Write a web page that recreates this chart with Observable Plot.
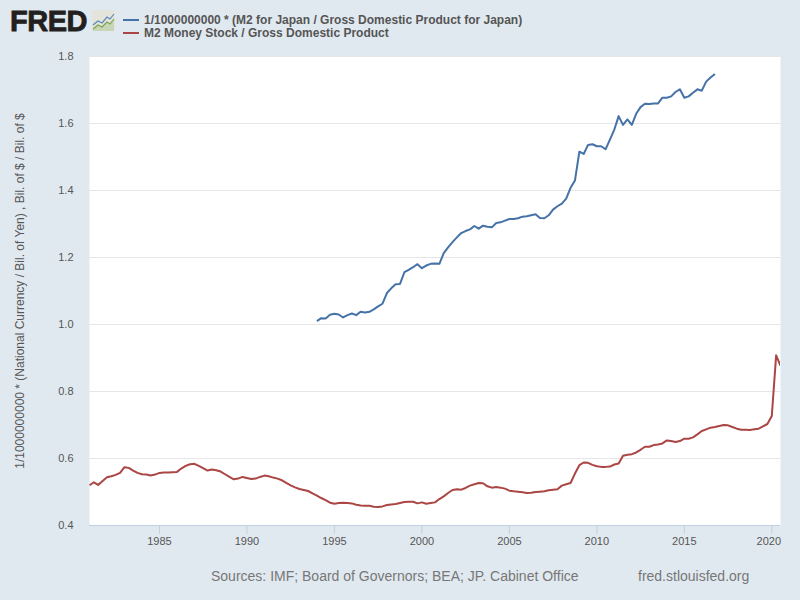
<!DOCTYPE html>
<html>
<head>
<meta charset="utf-8">
<script src="https://cdn.jsdelivr.net/npm/d3@7"></script>
<script src="https://cdn.jsdelivr.net/npm/@observablehq/plot@0.6"></script>
<style>
  html, body { margin: 0; padding: 0; background: #e1e9f0; }
  #page { position: relative; width: 800px; height: 600px; overflow: hidden; background: #e1e9f0; font-family: "Liberation Sans", Arial, sans-serif; }
  #chart { position: absolute; left: 0; top: 0; }
  #chart svg { display: block; background: transparent; }
  .abs { position: absolute; white-space: nowrap; }
  .logo { left: 10px; top: 5px; font-size: 29px; line-height: 32px; font-weight: bold; color: #231f20; letter-spacing: -0.5px; -webkit-text-stroke: 0.8px #231f20; }
  .key { left: 123px; width: 16px; height: 2px; }
  .lab { left: 144px; font-size: 12px; line-height: 14px; font-weight: bold; color: #555; }
  .foot { font-size: 14px; line-height: 16px; color: #777; top: 568px; }
</style>
</head>
<body>
<div id="page">
  <div id="chart"></div>
  <div class="abs logo">FRED</div>
  <svg class="abs" style="left:92px;top:10px" width="23" height="21" viewBox="0 0 23 21">
    <rect width="23" height="21" rx="2" fill="#e4e4dc"/>
    <path d="M1 15 L6 11 L10 13 L15 7 L18 9 L22 4" fill="none" stroke="#5b87b5" stroke-width="1.2"/>
    <path d="M1 19 L6 15 L10 17 L15 12 L18 14 L22 9 L22 21 L1 21 Z" fill="#c9d6b5"/>
    <path d="M1 19 L6 15 L10 17 L15 12 L18 14 L22 9" fill="none" stroke="#7ba34f" stroke-width="1.2"/>
  </svg>
  <div class="abs key" style="top:19px;background:#4572a7"></div>
  <div class="abs lab" style="top:13px">1/1000000000 * (M2 for Japan / Gross Domestic Product for Japan)</div>
  <div class="abs key" style="top:32px;background:#aa4643"></div>
  <div class="abs lab" style="top:26px">M2 Money Stock / Gross Domestic Product</div>
  <div class="abs foot" style="left:211px">Sources: IMF; Board of Governors; BEA; JP. Cabinet Office</div>
  <div class="abs foot" style="left:638px">fred.stlouisfed.org</div>
</div>
<script>
const japanStart = "1994-01-01";
const japanRatio = [
  1.010,1.019,1.018,1.029,1.032,1.030,1.021,1.028,1.033,1.028,1.038,1.036,
  1.038,1.045,1.054,1.062,1.094,1.108,1.120,1.121,1.156,1.163,1.171,1.180,
  1.168,1.176,1.181,1.182,1.181,1.213,1.230,1.246,1.260,1.273,1.279,1.284,
  1.294,1.286,1.295,1.292,1.290,1.303,1.305,1.310,1.315,1.315,1.317,1.322,
  1.323,1.326,1.329,1.318,1.317,1.326,1.343,1.353,1.361,1.376,1.408,1.430,
  1.516,1.509,1.536,1.538,1.532,1.532,1.523,1.552,1.582,1.622,1.596,1.612,
  1.596,1.629,1.649,1.659,1.658,1.660,1.660,1.677,1.677,1.681,1.694,1.702,
  1.677,1.681,1.692,1.702,1.698,1.725,1.737,1.748
];
const usStart = "1981-01-01";
const usRatio = [
  .520,.529,.521,.533,.544,.547,.551,.557,.574,.572,.564,.557,
  .553,.552,.549,.552,.557,.558,.558,.559,.560,.570,.578,.583,
  .584,.578,.571,.564,.567,.565,.561,.553,.545,.538,.540,.545,
  .542,.539,.540,.545,.549,.547,.543,.540,.535,.527,.520,.514,
  .509,.506,.503,.496,.489,.482,.476,.468,.465,.467,.468,.467,
  .466,.462,.460,.459,.459,.456,.455,.457,.461,.463,.464,.467,
  .470,.471,.471,.466,.469,.465,.467,.469,.479,.487,.497,.506,
  .508,.507,.512,.519,.523,.527,.526,.517,.513,.515,.513,.510,
  .504,.502,.501,.499,.497,.498,.500,.501,.502,.505,.507,.508,
  .519,.523,.527,.555,.580,.588,.587,.581,.577,.575,.575,.576,
  .582,.585,.608,.611,.613,.618,.626,.635,.635,.640,.642,.645,
  .654,.652,.649,.652,.659,.659,.663,.672,.682,.687,.692,.694,
  .697,.700,.699,.694,.689,.686,.686,.685,.687,.689,.696,.703,
  .727,.908,.877
];
const yTicks = [0.4,0.6,0.8,1.0,1.2,1.4,1.6,1.8];
const xTickYears = [1985,1990,1995,2000,2005,2010,2015];
const lastTickYear = [2020];
const xDomain = ["1981-01-01","2020-07-01"];
const yLabel = "1/1000000000 * (National Currency / Bil. of Yen) , Bil. of $ / Bil. of $";

const toRows = (start, values) => {
  const t0 = new Date(start);
  return values.map((v, i) => ({date: d3.utcMonth.offset(t0, i * 3), value: v}));
};
const yearDates = years => years.map(y => new Date(Date.UTC(y, 0, 1)));
const fmtYear = d3.utcFormat("%Y");

const chart = Plot.plot({
  width: 800,
  height: 600,
  marginTop: 56,
  marginBottom: 75,
  marginLeft: 89,
  marginRight: 20,
  style: {background: "transparent", fontFamily: "'Liberation Sans', Arial, sans-serif", fontSize: "12px", color: "#555"},
  x: {type: "utc", domain: xDomain.map(d => new Date(d))},
  y: {domain: [0.4, 1.8]},
  marks: [
    Plot.frame({fill: "#ffffff", stroke: null}),
    Plot.ruleY(yTicks.slice(1), {stroke: "#e6e6e6", strokeWidth: 1, strokeOpacity: 1}),
    Plot.ruleY([0.4], {stroke: "#c0d0e0", strokeWidth: 1, strokeOpacity: 1}),
    Plot.axisY({
      ticks: yTicks, tickSize: 0, tickPadding: 16,
      tickFormat: d3.format(".1f"),
      label: null, fill: "#555", fontSize: 11
    }),
    Plot.axisY({
      ticks: [], tickSize: 0,
      label: yLabel, labelAnchor: "center", labelArrow: "none", labelOffset: 74,
      fill: "#555"
    }),
    Plot.axisX({
      ticks: yearDates(xTickYears),
      tickFormat: fmtYear,
      tickSize: 9, tickPadding: 3, stroke: "#c0d0e0", label: null, fill: "#555", fontSize: 11
    }),
    Plot.axisX({
      ticks: yearDates(lastTickYear),
      tickFormat: () => "",
      tickSize: 9, stroke: "#c0d0e0", label: null
    }),
    Plot.axisX({
      ticks: yearDates(lastTickYear),
      tickFormat: fmtYear,
      tickSize: 0, tickPadding: 12, label: null, fill: "#555", fontSize: 11, dx: -3
    }),
    Plot.line(toRows(japanStart, japanRatio), {x: "date", y: "value", stroke: "#4572a7", strokeWidth: 2, strokeLinecap: "butt", clip: true}),
    Plot.line(toRows(usStart, usRatio), {x: "date", y: "value", stroke: "#aa4643", strokeWidth: 2, strokeLinecap: "butt", clip: true})
  ]
});
document.getElementById("chart").appendChild(chart);
</script>
</body>
</html>
